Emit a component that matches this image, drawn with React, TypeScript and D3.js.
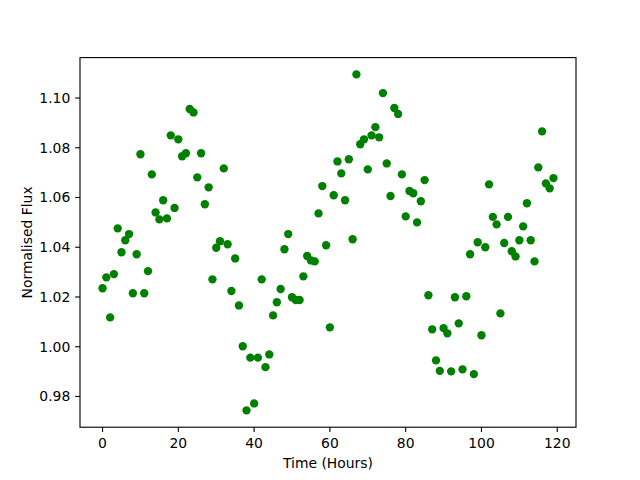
import React from "react";
import * as d3 from "d3";

// flux samples, one per hour starting at t = 0
const hours: number[] = Array.from({ length: 120 }, (_, i) => i);
const flux: number[] = [
  1.0235, 1.0279, 1.0118, 1.0292, 1.0476, 1.038, 1.0428, 1.0453, 1.0215, 1.0372,
  1.0774, 1.0215, 1.0304, 1.0693, 1.054, 1.0512, 1.0589, 1.0516, 1.085, 1.0558,
  1.0834, 1.0766, 1.0778, 1.0956, 1.0942, 1.0681, 1.0778, 1.0573, 1.0641, 1.0271,
  1.0398, 1.0424, 1.0717, 1.0412, 1.0224, 1.0355, 1.0166, 1.0002, 0.9744, 0.9956,
  0.9772, 0.9956, 1.0271, 0.9918, 0.9969, 1.0126, 1.0179, 1.0232, 1.0392, 1.0453,
  1.0199, 1.0188, 1.0188, 1.0283, 1.0365, 1.0347, 1.0343, 1.0536, 1.0646, 1.0408,
  1.0078, 1.0609, 1.0745, 1.0697, 1.0589, 1.0754, 1.0432, 1.1095, 1.0814, 1.0834,
  1.0713, 1.085, 1.0883, 1.0842, 1.102, 1.0737, 1.0606, 1.096, 1.0936, 1.0693,
  1.0524, 1.0626, 1.0617, 1.05, 1.0585, 1.067, 1.0207, 1.007, 0.9945, 0.9903,
  1.0075, 1.0054, 0.9901, 1.0199, 1.0094, 0.9909, 1.0203, 1.0372, 0.989, 1.042,
  1.0046, 1.04, 1.0653, 1.0522, 1.0492, 1.0134, 1.0417, 1.0522, 1.0384, 1.0363,
  1.0428, 1.0484, 1.0577, 1.0428, 1.0343, 1.0721, 1.0866, 1.0657, 1.0637, 1.0678,
];
const xTicks = [0, 20, 40, 60, 80, 100, 120];
const yTicks = [0.98, 1.0, 1.02, 1.04, 1.06, 1.08, 1.1];

const width = 640;
const height = 480;
const left = 80;
const right = 576;
const top = 57.6;
const bottom = 427.2;

export default function App() {
  // matplotlib style 5% padding on both axes
  const [xMin, xMax] = d3.extent(hours) as [number, number];
  const [yMin, yMax] = d3.extent(flux) as [number, number];
  const xPad = (xMax - xMin) * 0.05;
  const yPad = (yMax - yMin) * 0.05;

  const x = d3.scaleLinear().domain([xMin - xPad, xMax + xPad]).range([left, right]);
  const y = d3.scaleLinear().domain([yMin - yPad, yMax + yPad]).range([bottom, top]);

  const tickLen = 4.86;
  const font = "'DejaVu Sans', sans-serif";

  return (
    <svg
      width={width}
      height={height}
      style={{ position: "absolute", left: 0, top: 0, background: "#fff" }}
      fontFamily={font}
    >
      <rect x={0} y={0} width={width} height={height} fill="#fff" />

      {hours.map((h, i) => (
        <circle key={i} cx={x(h)} cy={y(flux[i])} r={4.17} fill="#008000" />
      ))}

      <rect
        x={left}
        y={top}
        width={right - left}
        height={bottom - top}
        fill="none"
        stroke="#000"
        strokeWidth={1.11}
      />

      {xTicks.map((t) => (
        <g key={t} transform={`translate(${x(t)},${bottom})`}>
          <line y1={0} y2={tickLen} stroke="#000" strokeWidth={1.11} />
          <text y={tickLen + 4.86 + 11} textAnchor="middle" fontSize={13.9} fill="#000">
            {t}
          </text>
        </g>
      ))}

      {yTicks.map((t) => (
        <g key={t} transform={`translate(${left},${y(t)})`}>
          <line x1={0} x2={-tickLen} stroke="#000" strokeWidth={1.11} />
          <text
            x={-tickLen - 4.86}
            dy="0.35em"
            textAnchor="end"
            fontSize={13.9}
            fill="#000"
          >
            {d3.format(".2f")(t)}
          </text>
        </g>
      ))}

      <text x={(left + right) / 2} y={468} textAnchor="middle" fontSize={13.9} fill="#000">
        Time (Hours)
      </text>
      <text
        transform={`translate(32,${(top + bottom) / 2}) rotate(-90)`}
        textAnchor="middle"
        fontSize={13.9}
        fill="#000"
      >
        Normalised Flux
      </text>
    </svg>
  );
}
